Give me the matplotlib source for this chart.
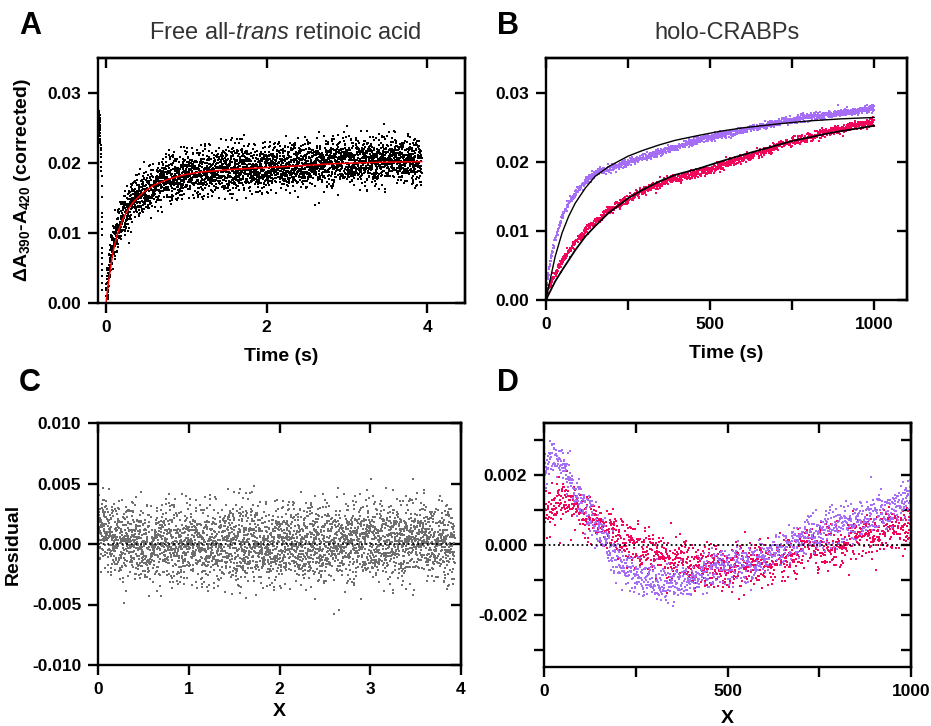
import numpy as np
import matplotlib
matplotlib.use("Agg")
import matplotlib.pyplot as plt

plt.rcParams['font.family'] = ['Liberation Sans', 'DejaVu Sans']
plt.rcParams['mathtext.fontset'] = 'custom'
plt.rcParams['mathtext.rm'] = 'Liberation Sans'
plt.rcParams['mathtext.it'] = 'Liberation Sans:italic'
plt.rcParams['mathtext.bf'] = 'Liberation Sans:bold'
plt.rcParams['axes.unicode_minus'] = False

# ---------------- data ----------------
# Panel A: red fit curve (free all-trans retinoic acid)
A_fit_t = [0, 0.012, 0.029, 0.05, 0.07, 0.09, 0.112, 0.14, 0.174, 0.21, 0.257, 0.30, 0.34, 0.40, 0.465, 0.59, 0.755, 0.963, 1.17, 1.585, 1.92, 2.4, 2.83, 3.4, 3.93]
A_fit_y = [0, 0.0012, 0.0028, 0.0045, 0.0061, 0.0074, 0.0085, 0.0098, 0.0109, 0.0120, 0.0130, 0.0138, 0.0144, 0.0151, 0.0158, 0.0168, 0.0176, 0.0183, 0.0187, 0.0191, 0.0193, 0.0196, 0.0199, 0.0201, 0.0202]
# Panel C: residual trend (mean) and its scatter
C_trend_t = [0, 0.05, 0.1, 0.2, 0.3, 0.5, 1.0, 1.5, 2.0, 2.5, 3.0, 3.5, 3.93]
C_trend_y = [0.0020, 0.0015, 0.0010, 0.0006, 0.0003, 0.0002, 0.0000, 0.0000, 0.0000, 0.0000, 0.0003, 0.0003, 0.0000]
C_spread = 0.0016
A_n_points = 3500
A_t_end = 3.93
# Panel A: points recorded before t = 0 (dead-time streak)
A_pre_t = [-0.088, -0.082, -0.078, -0.085, -0.074, -0.080, -0.090, -0.076, -0.083, -0.079,
           -0.086, -0.073, -0.081, -0.077, -0.084, -0.075, -0.089, -0.080, -0.072, -0.078,
           -0.070, -0.068, -0.066, -0.064, -0.062, -0.060, -0.058, -0.058, -0.057, -0.056,
           -0.056, -0.055, -0.055, -0.055, -0.054, -0.054, -0.054, -0.053, -0.053, -0.053,
           -0.052, -0.052, -0.052, -0.051, -0.051]
A_pre_y = [0.0274, 0.0271, 0.0268, 0.0266, 0.0264, 0.0262, 0.0260, 0.0258, 0.0256, 0.0255,
           0.0253, 0.0251, 0.0249, 0.0247, 0.0245, 0.0243, 0.0241, 0.0238, 0.0235, 0.0232,
           0.0229, 0.0226, 0.0222, 0.0218, 0.0213, 0.0209, 0.0201, 0.0195, 0.0189, 0.0181,
           0.0167, 0.0152, 0.0128, 0.0123, 0.0116, 0.0106, 0.0097, 0.0078, 0.0071, 0.0064,
           0.0056, 0.0047, 0.0038, 0.0028, 0.0019]

# Panel B: fit curves (black) of the two holo-CRABPs
B_pu_t = [0, 8, 28, 49, 69, 89, 120, 150, 191, 250, 293, 343, 394, 465, 530, 600, 713, 800, 900, 1000]
B_fit_purple = [0, 0.0019, 0.0063, 0.0097, 0.0121, 0.0140, 0.0162, 0.0179, 0.0193, 0.0208, 0.0216, 0.0224, 0.0231, 0.0238, 0.0244, 0.0249, 0.0255, 0.0259, 0.0262, 0.0264]
B_pi_t = [0, 8, 28, 49, 89, 120, 150, 191, 250, 293, 343, 394, 465, 530, 600, 713, 750, 870, 1000]
B_fit_pink = [0, 0.0008, 0.0027, 0.0043, 0.0072, 0.0092, 0.0107, 0.0126, 0.0147, 0.0159, 0.0171, 0.0181, 0.0190, 0.0200, 0.0210, 0.0225, 0.0230, 0.0242, 0.0252]
# Panel D: residual trends and scatter
D_t = [0, 10, 25, 40, 60, 80, 100, 125, 150, 175, 200, 225, 250, 300, 350, 400, 450, 500, 550, 600, 650, 700, 750, 800, 850, 900, 950, 1000]
D_purple = [0.0020, 0.0024, 0.0026, 0.0025, 0.0021, 0.0017, 0.0013, 0.0008, 0.0004, 0.0000, -0.0004, -0.0007, -0.0009, -0.0011, -0.0011, -0.0010, -0.0008, -0.0006, -0.0005, -0.0003, -0.0001, 0.0002, 0.0004, 0.0006, 0.0007, 0.0009, 0.0011, 0.0013]
D_pink = [0.0009, 0.0010, 0.0011, 0.0012, 0.0012, 0.0011, 0.0010, 0.0008, 0.0006, 0.0004, 0.0002, 0.0001, 0.0000, -0.0003, -0.0004, -0.0005, -0.0006, -0.0006, -0.0006, -0.0005, -0.0004, -0.0002, -0.0001, 0.0000, 0.0002, 0.0003, 0.0004, 0.0005]
D_spread_purple = 0.00027
D_spread_pink = 0.00032
B_n_points = 1300
# first recorded points at t = 0 (spikes)
B_start_purple = [0.0333, 0.0328, 0.0324, 0.0319, 0.0]
B_start_pink = [0.0304, 0.0300, 0.0295]

PURPLE = '#A66EF6'
PINK = '#F2065C'

# ---------------- build point clouds (noise around read trends) ----------------
rng = np.random.default_rng(7)
tA = np.linspace(0.0013, A_t_end, A_n_points)
resA = np.interp(tA, C_trend_t, C_trend_y) + rng.normal(0, C_spread, tA.size)
yA = np.interp(tA, A_fit_t, A_fit_y) + resA

tB = np.linspace(0.5, 1000, B_n_points)
res_pu = np.interp(tB, D_t, D_purple) + rng.normal(0, D_spread_purple, tB.size)
res_pi = np.interp(tB, D_t, D_pink) + rng.normal(0, D_spread_pink, tB.size)
y_pu = np.interp(tB, B_pu_t, B_fit_purple) + res_pu
y_pi = np.interp(tB, B_pi_t, B_fit_pink) + res_pi

# ---------------- figure ----------------
W, H = 931, 726
fig = plt.figure(figsize=(W / 100, H / 100), dpi=100)

def px_axes(x0, y0, x1, y1):
    return fig.add_axes([x0 / W, 1 - y1 / H, (x1 - x0) / W, (y1 - y0) / H])

axA = px_axes(98, 58, 465, 303)
axB = px_axes(546, 58, 907, 300)
axC = px_axes(98, 423, 461, 665)
axD = px_axes(544, 423, 911, 667)

LW = 1.7
TS = 12.5

def style(ax, xlim, ylim, xt, xl, yt, yl):
    ax.set_xlim(*xlim)
    ax.set_ylim(*ylim)
    for s in ax.spines.values():
        s.set_linewidth(LW)
    ax.set_xticks(xt, labels=xl, fontweight='bold', fontsize=TS)
    ax.set_yticks(yt, labels=yl, fontweight='bold', fontsize=TS)
    ax.tick_params(direction='out', length=7, width=LW, pad=5)
    sx = ax.secondary_xaxis('top')
    sx.set_xticks(xt)
    sx.set_xticklabels([''] * len(xt))
    sx.tick_params(direction='in', length=7, width=LW)
    sx.spines['top'].set_linewidth(LW)
    sy = ax.secondary_yaxis('right')
    sy.set_yticks(yt)
    sy.set_yticklabels([''] * len(yt))
    sy.tick_params(direction='in', length=7, width=LW)
    sy.spines['right'].set_linewidth(LW)

# Panel A
axA.plot(tA, yA, 's', ms=1.7, mew=0, color='black')
axA.plot(A_pre_t, A_pre_y, 's', ms=1.7, mew=0, color='black')
axA.plot(A_fit_t, A_fit_y, '-', color='#FF0000', lw=1.1)
style(axA, (-0.1, 4.47), (0, 0.035), [0, 2, 4], ['0', '2', '4'],
      [0, 0.01, 0.02, 0.03], ['0.00', '0.01', '0.02', '0.03'])
axA.set_xlabel('Time (s)', fontweight='bold', fontsize=14)
axA.xaxis.set_label_coords(0.5, -0.184)
axA.set_ylabel('ΔA$_{\\mathbf{390}}$-A$_{\\mathbf{420}}$ (corrected)', fontweight='bold', fontsize=14)
axA.yaxis.set_label_coords(-0.177, 0.5)

# Panel B
axB.plot(tB, y_pu, 's', ms=1.7, mew=0, color=PURPLE)
axB.plot(tB, y_pi, 's', ms=1.7, mew=0, color=PINK)
axB.plot([0] * len(B_start_purple), B_start_purple, 's', ms=1.7, mew=0, color=PURPLE)
axB.plot([0] * len(B_start_pink), B_start_pink, 's', ms=1.7, mew=0, color=PINK)
axB.plot(B_pu_t, B_fit_purple, '-', color='black', lw=1.0)
axB.plot(B_pi_t, B_fit_pink, '-', color='black', lw=1.3)
style(axB, (0, 1100), (0, 0.035), [0, 250, 500, 750, 1000], ['0', '', '500', '', '1000'],
      [0, 0.01, 0.02, 0.03], ['0.00', '0.01', '0.02', '0.03'])
axB.set_xlabel('Time (s)', fontweight='bold', fontsize=14)
axB.xaxis.set_label_coords(0.5, -0.186)

# Panel C
axC.plot(tA, resA, 's', ms=1.5, mew=0, color='#6E6E6E')
axC.axhline(0, color='black', lw=1.3, ls=(0, (1, 1.6)))
style(axC, (0, 4), (-0.01, 0.01), [0, 1, 2, 3, 4], ['0', '1', '2', '3', '4'],
      [-0.01, -0.005, 0, 0.005, 0.01], ['-0.010', '-0.005', '0.000', '0.005', '0.010'])
axC.set_xlabel('X', fontweight='bold', fontsize=14)
axC.xaxis.set_label_coords(0.5, -0.157)
axC.set_ylabel('Residual', fontweight='bold', fontsize=14)
axC.yaxis.set_label_coords(-0.209, 0.5)

# Panel D
axD.plot(tB, res_pi, 's', ms=2.1, mew=0, color=PINK)
axD.plot(tB, res_pu, 's', ms=2.1, mew=0, color=PURPLE)
axD.axhline(0, color='black', lw=1.3, ls=(0, (1, 1.6)))
style(axD, (0, 1000), (-0.0035, 0.0035), [0, 250, 500, 750, 1000], ['0', '', '500', '', '1000'],
      [-0.003, -0.002, -0.001, 0, 0.001, 0.002, 0.003], ['', '-0.002', '', '0.000', '', '0.002', ''])
axD.set_xlabel('X', fontweight='bold', fontsize=14)
axD.xaxis.set_label_coords(0.5, -0.175)

# titles and panel letters
fig.text(285 / W, 1 - 33 / H, 'Free all-$\\mathit{trans}$ retinoic acid', ha='center', va='center',
         fontsize=17, color='#333333')
fig.text(727 / W, 1 - 33 / H, 'holo-CRABPs', ha='center', va='center', fontsize=17, color='#333333')
for letter, (x, y) in {'A': (30, 26), 'B': (508, 26), 'C': (30, 383), 'D': (508, 383)}.items():
    fig.text(x / W, 1 - y / H, letter, ha='center', va='center', fontsize=22, fontweight='bold')

fig.savefig('out.png', dpi=100)
